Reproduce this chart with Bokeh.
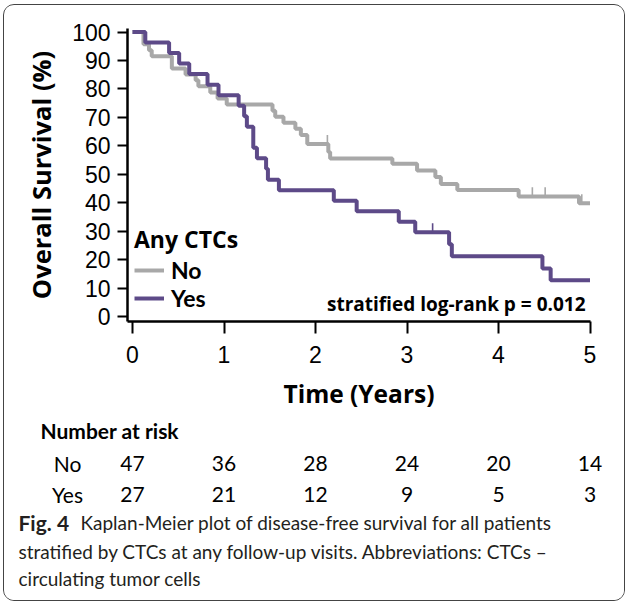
from bokeh.plotting import figure
from bokeh.layouts import column
from bokeh.models import (Range1d, Label, ColumnDataSource, Legend, LegendItem,
                          FixedTicker)
from bokeh.core.properties import value
from bokeh.embed import file_html
from bokeh.resources import INLINE

# ---------------- data ----------------
no_time = [0, 0.12, 0.18, 0.21, 0.43, 0.58, 0.69, 0.72, 0.85, 0.93, 1.03, 1.53, 1.56,
           1.65, 1.78, 1.84, 1.91, 2.14, 2.16, 2.84, 3.11, 3.31, 3.37, 3.55, 4.22, 4.88]
no_surv = [100, 95.7, 93.6, 91.5, 87.2, 85.1, 83.0, 80.9, 78.7, 76.6, 74.5, 72.3, 70.2,
           68.1, 66.0, 63.8, 60.6, 57.8, 55.5, 53.7, 51.3, 49.0, 46.6, 44.5, 42.2, 39.8]
no_end = 5.0
no_censor = [2.13, 4.37, 4.51, 4.91]

yes_time = [0, 0.14, 0.40, 0.51, 0.62, 0.82, 0.94, 1.16, 1.22, 1.25, 1.32, 1.36, 1.46,
            1.48, 1.60, 2.20, 2.45, 2.91, 3.09, 3.46, 3.49, 4.48, 4.57]
yes_surv = [100, 96.3, 92.6, 88.9, 85.2, 81.5, 77.8, 74.1, 70.4, 66.7, 59.3, 55.6, 51.9,
            48.1, 44.4, 40.7, 37.0, 33.3, 29.6, 25.4, 21.2, 16.9, 12.7]
yes_end = 5.0
yes_censor = [3.28]

x_ticks = [0, 1, 2, 3, 4, 5]
y_ticks = [0, 10, 20, 30, 40, 50, 60, 70, 80, 90, 100]

risk_times = [0, 1, 2, 3, 4, 5]
risk_no = [47, 36, 28, 24, 20, 14]
risk_yes = [27, 21, 12, 9, 5, 3]

group_labels = ["No", "Yes"]
legend_title = "Any CTCs"
pvalue_text = "stratified log-rank p = 0.012"
risk_title = "Number at risk"
caption_bold = "Fig. 4"
caption_lines = ["Kaplan-Meier plot of disease-free survival for all patients",
                 "stratified by CTCs at any follow-up visits. Abbreviations: CTCs \u2013",
                 "circulating tumor cells"]

GREY = "#a8a8a8"
PURPLE = "#5d4a88"
CAP_COLOR = "#231f20"

# ---------------- layout helpers (page pixel -> data) ----------------
X0, XS = 132.0, 91.5      # page x of t=0, px per year
Y0, YS = 316.0, 2.845     # page y of 0 %, px per percent
OX, OY = 4, 5             # page position of the panel's inner top-left corner


def dx(px):
    return (px - X0) / XS


def dy(py):
    return (Y0 - py) / YS


def step_xy(t, s, end):
    return list(t) + [end], list(s) + [s[-1]]


def surv_at(t, s, when):
    val = s[0]
    for ti, si in zip(t, s):
        if ti <= when:
            val = si
    return val


W = 620
SPLIT = 418                 # page y where the lower panel starts
BOTTOM = 600                # page y of the inner bottom edge
H1 = SPLIT - OY
H2 = BOTTOM - SPLIT
FL, FR, FT, FB = 127, 590, 28, 321   # frame edges in page pixels

p = figure(width=W, height=H1, output_backend="svg", toolbar_location=None,
           x_range=Range1d(dx(FL), dx(FR)), y_range=Range1d(dy(FB), dy(FT)),
           min_border_left=FL - OX, min_border_right=W - (FR - OX),
           min_border_top=FT - OY, min_border_bottom=H1 - (FB - OY))
p.frame_align = False
p.outline_line_color = None
p.xgrid.visible = False
p.ygrid.visible = False
p.background_fill_color = "white"
p.border_fill_color = "white"

for ax in (p.xaxis[0], p.yaxis[0]):
    ax.axis_line_width = 2.5
    ax.axis_line_color = "black"
    ax.major_tick_line_width = 2
    ax.major_tick_line_color = "black"
    ax.minor_tick_line_color = None
    ax.major_tick_in = 0
    ax.major_label_text_font = "Liberation Sans"
    ax.major_label_text_font_size = "23px"
    ax.major_label_text_color = "black"
    ax.axis_label_text_font = "Open Sans"
    ax.axis_label_text_font_style = "bold"
    ax.axis_label_text_color = "black"

p.xaxis[0].axis_label_text_font_size = "24.5px"
p.yaxis[0].axis_label_text_font_size = "25.5px"
p.xaxis[0].ticker = FixedTicker(ticks=x_ticks)
p.yaxis[0].ticker = FixedTicker(ticks=y_ticks)
p.xaxis[0].major_tick_out = 12
p.yaxis[0].major_tick_out = 10
p.xaxis[0].major_label_standoff = 12
p.yaxis[0].major_label_standoff = 7
p.xaxis[0].axis_label = "Time (Years)"
p.yaxis[0].axis_label = "Overall Survival (%)"
p.xaxis[0].axis_label_standoff = 11
p.yaxis[0].axis_label_standoff = 11

nx, ny = step_xy(no_time, no_surv, no_end)
yx, yy = step_xy(yes_time, yes_surv, yes_end)
r_no = p.step(nx, ny, mode="after", line_color=GREY, line_width=4)
r_yes = p.step(yx, yy, mode="after", line_color=PURPLE, line_width=4)

TICK = 3.2
nc_y = [surv_at(no_time, no_surv, c) for c in no_censor]
yc_y = [surv_at(yes_time, yes_surv, c) for c in yes_censor]
p.segment(x0=no_censor, y0=nc_y, x1=no_censor, y1=[v + TICK for v in nc_y],
          line_color=GREY, line_width=1.6)
p.segment(x0=yes_censor, y0=yc_y, x1=yes_censor, y1=[v + TICK for v in yc_y],
          line_color=PURPLE, line_width=1.6)

legend = Legend(items=[LegendItem(label=group_labels[0], renderers=[r_no]),
                       LegendItem(label=group_labels[1], renderers=[r_yes])],
                location=(7, 9), title=legend_title,
                title_text_font="Open Sans", title_text_font_style="bold",
                title_text_font_size="23px", title_text_color="black",
                title_standoff=1,
                label_text_font="Lato", label_text_font_style="bold",
                label_text_font_size="23px", label_text_color="black",
                glyph_width=30, glyph_height=24, label_height=24,
                label_standoff=7, spacing=0, padding=0, margin=0,
                border_line_color=None, background_fill_alpha=0)
p.add_layout(legend, "center")

p.add_layout(Label(x=dx(585), y=dy(303), text=pvalue_text, text_align="right",
                   text_baseline="middle", text_font="Open Sans",
                   text_font_style="bold", text_font_size="19px", text_color="black"))

# ---------------- lower panel: number at risk + caption ----------------
q = figure(width=W, height=H2, output_backend="svg", toolbar_location=None,
           x_range=Range1d(dx(OX), dx(OX + W)), y_range=Range1d(BOTTOM, SPLIT),
           x_axis_type=None, y_axis_type=None,
           min_border_left=0, min_border_right=0, min_border_top=0,
           min_border_bottom=0)
q.frame_align = False
q.outline_line_color = None
q.xgrid.visible = False
q.ygrid.visible = False
q.background_fill_color = "white"
q.border_fill_color = "white"

q.text(x=[dx(40)], y=[430], text=[risk_title], text_align="left",
       text_baseline="middle", text_font=value("Lato"), text_font_style="bold",
       text_font_size="21px", text_color="black")

rows = [(group_labels[0], risk_no, 463), (group_labels[1], risk_yes, 494)]
for name, counts, ry in rows:
    q.text(x=[dx(67)], y=[ry], text=[name], text_align="center",
           text_baseline="middle", text_font=value("Lato"), text_font_size="21px",
           text_color="black")
    src = ColumnDataSource(dict(x=risk_times, y=[ry] * len(risk_times),
                                text=[str(c) for c in counts]))
    q.text(x="x", y="y", text="text", source=src, text_align="center",
           text_baseline="middle", text_font=value("Lato"), text_font_size="21px",
           text_color="black")

q.text(x=[dx(18)], y=[522], text=[caption_bold], text_align="left",
       text_baseline="middle", text_font=value("Lato"), text_font_style="bold",
       text_font_size="21px", text_color=CAP_COLOR)
cap_pos = [(80, 522), (18, 551), (18, 578)]
for (cx, cy), line in zip(cap_pos, caption_lines):
    q.text(x=[dx(cx)], y=[cy], text=[line], text_align="left",
           text_baseline="middle", text_font=value("Lato"),
           text_font_size="19px", text_color=CAP_COLOR)

layout = column(p, q, spacing=0,
                styles={"border": "1.3px solid #444444", "border-radius": "11px",
                        "overflow": "hidden", "margin-left": "3px",
                        "margin-top": "4px"})

open("out.html", "w").write(file_html(layout, INLINE))
